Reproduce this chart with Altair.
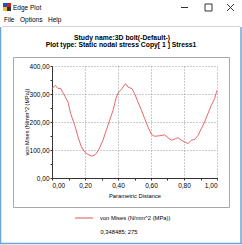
import altair as alt
import pandas as pd

# ---- data ----
dist = [0, 0.02, 0.036, 0.053, 0.065, 0.081, 0.097, 0.113, 0.138, 0.158, 0.178, 0.198,
        0.218, 0.242, 0.263, 0.283, 0.309, 0.339, 0.37, 0.39, 0.404, 0.42, 0.445, 0.46,
        0.485, 0.501, 0.521, 0.542, 0.562, 0.582, 0.602, 0.622, 0.653, 0.683, 0.703,
        0.724, 0.744, 0.764, 0.784, 0.804, 0.824, 0.845, 0.865, 0.885, 0.905, 0.925,
        0.945, 0.966, 0.986, 1.0]
stress = [319, 331, 320, 320, 305, 289, 271, 230, 188, 146, 111, 93,
          84, 78, 84, 101, 135, 188, 242, 289, 307, 316, 337, 325,
          319, 301, 271, 242, 212, 182, 156, 149, 151, 154, 144,
          135, 139, 144, 135, 129, 123, 135, 138, 152, 176, 200,
          230, 260, 284, 313]
x_ticks = [round(i * 0.1, 1) for i in range(11)]
y_ticks = [i * 50 for i in range(9)]

window_title = "Edge Plot"
menu_items = ["File", "Options", "Help"]
title1 = "Study name:3D bolt(-Default-)"
title2 = "Plot type: Static nodal stress Copy[ 1 ] Stress1"
y_title = "von Mises (N/mm^2 (MPa))"
x_title = "Parametric Distance"
legend_label = "von Mises (N/mm^2 (MPa))"
cursor_text = "0,348485; 275"

df = pd.DataFrame({"d": dist, "s": stress})
one = pd.DataFrame({"k": [0]})

OX, OY = 52, 66  # plot-area origin in window pixels
FONT = "Liberation Sans"


def X(px):
    return alt.value(px - OX)


def Y(px):
    return alt.value(px - OY)


def txt(s, x, y, size=6.5, align="left", weight="normal", color="#000", angle=0):
    kw = dict(text=s, fontSize=size, align=align, baseline="middle", font=FONT,
              fontWeight=weight, color=color)
    if angle:
        kw["angle"] = angle
    return alt.Chart(one).mark_text(**kw).encode(x=X(x), y=Y(y))


def rule(x1, y1, x2, y2, color="#000", w=1.0):
    return alt.Chart(one).mark_rule(color=color, strokeWidth=w).encode(
        x=X(x1), x2=X(x2), y=Y(y1), y2=Y(y2))


def box(x1, y1, x2, y2, fill=None, stroke=None, w=1.0):
    kw = {}
    if fill:
        kw["fill"] = fill
    else:
        kw["fillOpacity"] = 0
    if stroke:
        kw["stroke"] = stroke
        kw["strokeWidth"] = w
    return alt.Chart(one).mark_rect(**kw).encode(x=X(x1), x2=X(x2), y=Y(y1), y2=Y(y2))


fmt = "replace(format(datum.value, '.2f'), '.', ',')"

line = alt.Chart(df).mark_line(color="#e8686c", strokeWidth=1).encode(
    x=alt.X("d:Q", scale=alt.Scale(domain=[0, 1], nice=False),
            axis=alt.Axis(values=x_ticks, title=None, tickSize=2, domainColor="#333",
                          tickColor="#333", labelFont=FONT, labelFontSize=6.5,
                          labelColor="#000", labelPadding=2,
                          labelExpr="round(datum.value*10)%2==0 ? " + fmt + " : ''",
                          grid=True, gridColor="#999", gridDash=[1, 2],
                          gridOpacity={"condition": {"test": "round(datum.value*10)%2==0 && datum.value>0", "value": 1}, "value": 0})),
    y=alt.Y("s:Q", scale=alt.Scale(domain=[0, 400], nice=False),
            axis=alt.Axis(values=y_ticks, title=None, tickSize=2, domainColor="#333",
                          tickColor="#333", labelFont=FONT, labelFontSize=6.5,
                          labelColor="#000", labelPadding=1,
                          labelExpr="round(datum.value)%100==0 ? " + fmt + " : ''",
                          grid=True, gridColor="#999", gridDash=[1, 2],
                          gridOpacity={"condition": {"test": "round(datum.value)%100==0 && datum.value>0", "value": 1}, "value": 0})),
)

layers = [
    # window frame
    rule(0.5, 27, 0.5, 244, color="#6aa6da", w=1.5),
    rule(241, 27, 241, 244, color="#6aa6da", w=1.5),
    rule(0, 243.5, 242, 243.5, color="#6aa6da", w=1.5),
    rule(2, 26.5, 240, 26.5, color="#d4d4d4", w=1),
    # icon
    box(3, 3, 7, 7, fill="#2050c0"),
    box(7, 3, 11, 7, fill="#d02020"),
    box(3, 7, 7, 11, fill="#f0c020"),
    box(7, 7, 11, 11, fill="#303030"),
    txt(window_title, 13, 7.5, size=6.5),
    # window buttons
    rule(181, 7.5, 188, 7.5, color="#333"),
    box(205, 4, 212, 11, stroke="#333"),
    rule(227, 4, 234, 11, color="#333"),
    rule(227, 11, 234, 4, color="#333"),
    # menu
    txt(menu_items[0], 4, 20, size=6.5),
    txt(menu_items[1], 20, 20, size=6.5),
    txt(menu_items[2], 48, 20, size=6.5),
    # titles
    txt(title1, 122, 38, size=6.8, align="center", weight="bold"),
    txt(title2, 121, 45, size=6.8, align="center", weight="bold"),
    # panel
    box(13.5, 57.5, 229.5, 207.5, stroke="#a8a8a8"),
    line,
    txt(y_title, 27, 122, size=5.5, align="center", angle=270),
    txt(x_title, 135, 195.5, size=5.8, align="center"),
    # legend
    rule(75, 218, 93, 218, color="#f0a0a4", w=1.8),
    txt(legend_label, 100, 218, size=5.8),
    txt(cursor_text, 119, 232, size=5.8, align="center"),
]

chart = alt.layer(*layers).properties(
    width=165, height=112,
    padding={"left": 52, "top": 66, "right": 25, "bottom": 67},
    autosize=alt.AutoSizeParams(type="none"),
    background="white",
).configure_view(stroke=None)

chart.save("out.html", embed_options={"renderer": "svg", "actions": False})
